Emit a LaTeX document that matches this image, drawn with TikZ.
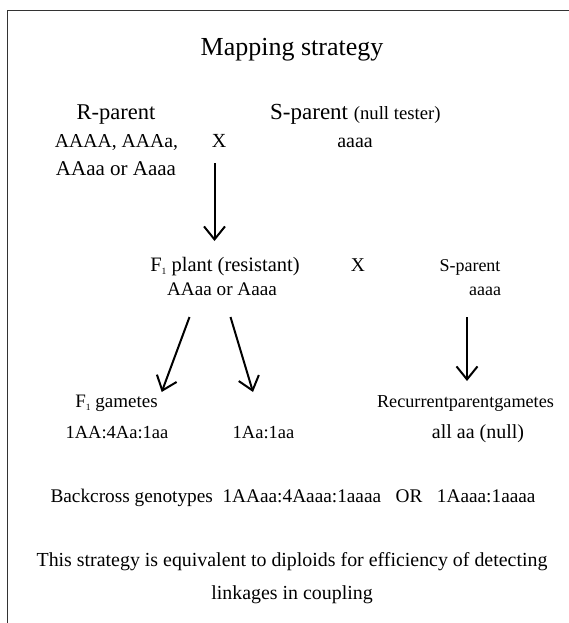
\documentclass[tikz,border=0pt]{standalone}
\usepackage{fontspec}
\setmainfont{Liberation Serif}
\usetikzlibrary{arrows.meta}
\newcommand{\fsz}[1]{\fontsize{#1}{#1}\selectfont}
\tikzset{
  txt/.style={anchor=base,inner sep=0pt,font=\fsz{19.5}},
  arr/.style={line width=2pt,-{Straight Barb[length=13pt,width=21pt,line width=2pt]}},
  frame/.style={line width=1.2pt,draw=black!80}
}
\newcommand{\subone}{\raisebox{-0.4ex}{\fsz{9.5}1}}
\begin{document}
\begin{tikzpicture}[x=1pt,y=-1pt]
\useasboundingbox (0,0) rectangle (569,623);
\draw[frame] (569,10.5) -- (7.5,10.5) -- (7.5,623);
\node[txt,font=\fsz{26}] (title) at (292,56) {Mapping strategy};
\node[txt,font=\fsz{22.5}] (rp) at (116,119) {R-parent};
\node[txt,font=\fsz{19.7}] (rg1) at (116.5,147.5) {AAAA, AAAa,};
\node[txt,font=\fsz{21}] (rg2) at (116,175) {AAaa or Aaaa};
\node[txt,font=\fsz{20}] (x1) at (219,147.5) {X};
\node[txt,anchor=base west,font=\fsz{23}] (sp) at (270,120) {S-parent {\fsz{18.7}(null tester)}};
\node[txt,font=\fsz{20}] (sg) at (355,147.5) {aaaa};
\node[txt,font=\fsz{20.5}] (f1) at (225,271) {F\subone{} plant (resistant)};
\node[txt,font=\fsz{19.2}] (f1g) at (222,295) {AAaa or Aaaa};
\node[txt,font=\fsz{19.5}] (x2) at (358,271) {X};
\node[txt,font=\fsz{18}] (sp2) at (470,271) {S-parent};
\node[txt,font=\fsz{18}] (sg2) at (485,295) {aaaa};
\node[txt,font=\fsz{19}] (gam) at (116.5,407) {F\subone{} gametes};
\node[txt,font=\fsz{18.5}] (r1) at (117,438) {1AA:4Aa:1aa};
\node[txt,font=\fsz{18.5}] (r2) at (263.5,438) {1Aa:1aa};
\node[txt,font=\fsz{18.2}] (rec) at (465.5,407) {Recurrentparentgametes};
\node[txt,font=\fsz{20}] (alla) at (478,438) {all aa (null)};
\node[txt,font=\fsz{19.3}] (bc) at (293,502) {Backcross genotypes\ \ 1AAaa:4Aaaa:1aaaa\ \ \ OR\ \ \ 1Aaaa:1aaaa};
\node[txt,font=\fsz{19.9}] (note1) at (292,566) {This strategy is equivalent to diploids for efficiency of detecting};
\node[txt,font=\fsz{19.9}] (note2) at (292,599) {linkages in coupling};
\coordinate (a1s) at (214.5,163);
\coordinate (a1e) at (214.5,241);
\coordinate (a2s) at (189.5,317);
\coordinate (a2e) at (161.7,392);
\coordinate (a3s) at (230.5,317);
\coordinate (a3e) at (253,392);
\coordinate (a4s) at (467,317);
\coordinate (a4e) at (467,381);
\draw[arr] (a1s) -- (a1e);
\draw[arr] (a2s) -- (a2e);
\draw[arr] (a3s) -- (a3e);
\draw[arr] (a4s) -- (a4e);
\end{tikzpicture}
\end{document}
